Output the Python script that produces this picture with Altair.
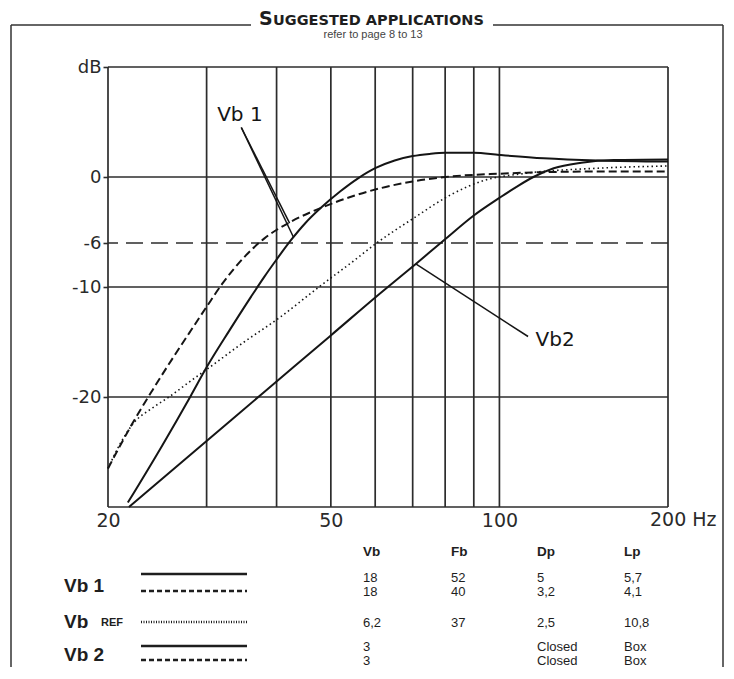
import altair as alt
import pandas as pd

# ---------------- data ----------------
VB1_SOLID_HZ = [21.7, 25, 28.1, 30, 33, 36, 38, 40, 42.5, 45, 48, 52, 56, 60, 65, 70, 75, 80, 90, 100, 120, 150, 200]
VB1_SOLID_DB = [-29.6, -24.4, -19.9, -17.3, -13.9, -10.9, -9.1, -7.5, -5.7, -4.2, -2.8, -1.3, -0.1, 0.8, 1.5, 1.9, 2.1, 2.2, 2.2, 2.0, 1.7, 1.5, 1.4]

VB1_DASH_HZ = [20, 22, 24, 26, 28, 30, 32, 35, 38, 42.3, 48.6, 55, 61.5, 70, 80, 100, 150, 200]
VB1_DASH_DB = [-26.5, -22.6, -19.4, -16.6, -14.1, -11.8, -9.7, -7.3, -5.6, -4.1, -2.7, -1.7, -1.0, -0.4, 0.0, 0.3, 0.5, 0.5]

VBREF_HZ = [20, 21, 22.2, 24, 25.7, 28, 30, 35, 40.7, 47.6, 55, 60, 70, 82, 94, 110, 150, 200]
VBREF_DB = [-26.5, -24.3, -22.4, -21.0, -20, -18.6, -17.5, -15.0, -12.7, -10, -7.6, -6.1, -3.8, -1.6, -0.3, 0.3, 0.8, 1.0]

VB2_HZ = [21.8, 30, 37.7, 50, 61.5, 70.9, 79.4, 90, 100, 108, 115, 125, 140, 160, 200]
VB2_DB = [-30, -24.0, -19.7, -14.4, -10.5, -7.9, -5.8, -3.5, -1.9, -0.8, 0, 0.8, 1.3, 1.55, 1.6]

GRID_HZ = [20, 30, 40, 50, 60, 70, 80, 90, 100, 200]
GRID_DB = [10, 0, -10, -20, -30]
REF_LEVEL_DB = [-6]
X_TICKS = [20, 50, 100]
X_LAST_LABEL = ["200 Hz"]
X_LAST_HZ = [200]
Y_TICKS = [10, 0, -6, -10, -20]

VB1_LABEL_HZ, VB1_LABEL_DB, VB1_LABEL = [34.4], [5.6], ["Vb 1"]
VB1_LEAD_HZ = [34.6, 34.6]
VB1_LEAD_DB = [4.5, 4.5]
VB1_LEAD_HZ2 = [42.2, 42.9]
VB1_LEAD_DB2 = [-4.2, -5.5]
VB2_LABEL_HZ, VB2_LABEL_DB, VB2_LABEL = [116], [-14.8], ["Vb2"]
VB2_LEAD_HZ, VB2_LEAD_DB, VB2_LEAD_HZ2, VB2_LEAD_DB2 = [70.9], [-7.9], [112.5], [-14.5]

TITLE_CAP = ["S"]
TITLE_REST = ["UGGESTED APPLICATIONS"]
SUBTITLE = ["refer to page 8 to 13"]

TABLE_HEADERS = ["Vb", "Fb", "Dp", "Lp"]
VB_VALUES = ["18", "18", "6,2", "3", "3"]
FB_VALUES = ["52", "40", "37", "", ""]
DP_VALUES = ["5", "3,2", "2,5", "Closed", "Closed"]
LP_VALUES = ["5,7", "4,1", "10,8", "Box", "Box"]
LEGEND_KEYS = ["Vb1 solid", "Vb1 dashed", "Vb REF", "Vb2 solid", "Vb2 dashed"]
LEGEND_LABELS = ["Vb 1", "Vb", "Vb 2"]
LEGEND_SUB = ["REF"]

# ---------------- layout / style ----------------
W, H = 560, 440
TW, TH = 560, 158
INK = "#151515"
GRID = "#2c2c2c"
FONT = "DejaVu Sans"
TFONT = "Liberation Sans"

COL_X = [255, 343, 429, 516]
HEADER_Y = 45
ROW_Y = [71, 85, 116, 140, 154]
LINE_Y = [67, 84, 115, 139, 153]
LABEL_Y = [79, 115, 148]
LABEL_X = -44
SUB_X = -7
SAMPLE_X = (33, 139)

xs = alt.Scale(type="log", domain=[20, 200], nice=False)
ys = alt.Scale(domain=[-30, 10], nice=False, zero=False)

x_axis = alt.Axis(values=X_TICKS, title=None, grid=False, ticks=False, tickSize=0,
                  domain=False, labelFont=FONT, labelFontSize=19, labelColor="#2a2a2a",
                  labelPadding=4, labelFlush=False, labelOverlap=False, format="d")
y_axis = alt.Axis(values=Y_TICKS, title=None, grid=False, domain=False, tickSize=5,
                  tickColor=GRID, tickWidth=1.6, labelFont=FONT, labelFontSize=18,
                  labelColor="#2a2a2a", labelPadding=2, labelOverlap=False,
                  labelExpr="datum.value == 10 ? 'dB' : toString(datum.value)")


def X(field="hz"):
    return alt.X(f"{field}:Q", scale=xs, axis=x_axis)


def Y(field="db"):
    return alt.Y(f"{field}:Q", scale=ys, axis=y_axis)


one = pd.DataFrame({"k": [0]})

vgrid = alt.Chart(pd.DataFrame({"hz": GRID_HZ})).mark_rule(
    color=GRID, strokeWidth=1.7).encode(x=X())
hgrid = alt.Chart(pd.DataFrame({"db": GRID_DB})).mark_rule(
    color=GRID, strokeWidth=1.7).encode(y=Y())
ref6 = alt.Chart(pd.DataFrame({"db": REF_LEVEL_DB})).mark_rule(
    color=GRID, strokeWidth=1.7, strokeDash=[17, 8]).encode(y=Y())


def curve(hz, db, width, dash=None):
    kw = dict(color=INK, strokeWidth=width, interpolate="monotone")
    if dash:
        kw["strokeDash"] = dash
    return alt.Chart(pd.DataFrame({"hz": hz, "db": db})).mark_line(**kw).encode(
        x=X(), y=Y())


c_ref = curve(VBREF_HZ, VBREF_DB, 1.6, [1.5, 3])
c_vb1d = curve(VB1_DASH_HZ, VB1_DASH_DB, 2.0, [8, 4])
c_vb1 = curve(VB1_SOLID_HZ, VB1_SOLID_DB, 2.0)
c_vb2 = curve(VB2_HZ, VB2_DB, 2.0)

lead1 = alt.Chart(pd.DataFrame({"hz": VB1_LEAD_HZ, "db": VB1_LEAD_DB,
                                "hz2": VB1_LEAD_HZ2, "db2": VB1_LEAD_DB2})).mark_rule(
    color=INK, strokeWidth=1.5).encode(x=X(), y=Y(), x2="hz2:Q", y2="db2:Q")
lead2 = alt.Chart(pd.DataFrame({"hz": VB2_LEAD_HZ, "db": VB2_LEAD_DB,
                                "hz2": VB2_LEAD_HZ2, "db2": VB2_LEAD_DB2})).mark_rule(
    color=INK, strokeWidth=1.5).encode(x=X(), y=Y(), x2="hz2:Q", y2="db2:Q")

lab1 = alt.Chart(pd.DataFrame({"hz": VB1_LABEL_HZ, "db": VB1_LABEL_DB, "t": VB1_LABEL})).mark_text(
    font=FONT, fontSize=20, color=INK, align="center", baseline="middle").encode(
    x=X(), y=Y(), text="t:N")
lab2 = alt.Chart(pd.DataFrame({"hz": VB2_LABEL_HZ, "db": VB2_LABEL_DB, "t": VB2_LABEL})).mark_text(
    font=FONT, fontSize=20, color=INK, align="left", baseline="middle").encode(
    x=X(), y=Y(), text="t:N")

last_lab = alt.Chart(pd.DataFrame({"hz": X_LAST_HZ, "t": X_LAST_LABEL})).mark_text(
    font=FONT, fontSize=19, color="#2a2a2a", align="left", baseline="top", dx=-18).encode(
    x=X(), y=alt.value(H + 4), text="t:N")


# decorations: outer frame, title
def hline(x1, x2, y, color="#333333", w=1.5):
    return alt.Chart(one).mark_rule(color=color, strokeWidth=w).encode(
        x=alt.value(x1), x2=alt.value(x2), y=alt.value(y))


def vline(x, y1, y2, color="#333333", w=1.5):
    return alt.Chart(one).mark_rule(color=color, strokeWidth=w).encode(
        x=alt.value(x), y=alt.value(y1), y2=alt.value(y2))


pin = hline(-99, 100, -58, color="#ffffff", w=0.5)
frame_l = vline(-97, -42, 600)
frame_r = vline(615, -42, 600)
frame_t1 = hline(-97, 143, -42)
frame_t2 = hline(385, 615, -42)

title_cap = alt.Chart(pd.DataFrame({"t": TITLE_CAP})).mark_text(
    font=FONT, fontWeight="bold", fontSize=19, color="#1e1e1e", align="left",
    baseline="alphabetic").encode(x=alt.value(151), y=alt.value(-42), text="t:N")
title_rest = alt.Chart(pd.DataFrame({"t": TITLE_REST})).mark_text(
    font=FONT, fontWeight="bold", fontSize=14.5, color="#1e1e1e", align="left",
    baseline="alphabetic").encode(x=alt.value(165), y=alt.value(-42), text="t:N")
subtitle = alt.Chart(pd.DataFrame({"t": SUBTITLE})).mark_text(
    font=TFONT, fontSize=11, color="#444444", align="center",
    baseline="alphabetic").encode(x=alt.value(265), y=alt.value(-29), text="t:N")

top = alt.layer(
    pin, frame_l, frame_r, frame_t1, frame_t2, title_cap, title_rest, subtitle,
    vgrid, hgrid, ref6, c_ref, c_vb1d, c_vb1, c_vb2, lead1, lead2, lab1, lab2, last_lab
).properties(width=W, height=H)

# ---------------- table below the chart ----------------
tx = alt.Scale(domain=[0, TW], range=[0, TW])
ty = alt.Scale(domain=[0, TH], range=[0, TH])

cells = []
for j, vals in enumerate([VB_VALUES, FB_VALUES, DP_VALUES, LP_VALUES]):
    for i, v in enumerate(vals):
        cells.append({"x": COL_X[j], "y": ROW_Y[i], "t": v})
cells = pd.DataFrame(cells)
heads = pd.DataFrame({"x": COL_X, "y": [HEADER_Y] * 4, "t": TABLE_HEADERS})

t_heads = alt.Chart(heads).mark_text(font=TFONT, fontWeight="bold", fontSize=13.5,
                                     color="#1e1e1e", align="left", baseline="middle").encode(
    x=alt.X("x:Q", scale=tx, axis=None), y=alt.Y("y:Q", scale=ty, axis=None), text="t:N")
t_cells = alt.Chart(cells).mark_text(font=TFONT, fontSize=13, color="#1e1e1e",
                                     align="left", baseline="middle").encode(
    x=alt.X("x:Q", scale=tx, axis=None), y=alt.Y("y:Q", scale=ty, axis=None), text="t:N")

labels = pd.DataFrame({"x": [LABEL_X] * 3, "y": LABEL_Y, "t": LEGEND_LABELS})
t_labels = alt.Chart(labels).mark_text(font=TFONT, fontWeight="bold", fontSize=19,
                                       color="#1e1e1e", align="left", baseline="middle").encode(
    x=alt.X("x:Q", scale=tx, axis=None), y=alt.Y("y:Q", scale=ty, axis=None), text="t:N")
subs = pd.DataFrame({"x": [SUB_X], "y": [LABEL_Y[1] + 1], "t": LEGEND_SUB})
t_subs = alt.Chart(subs).mark_text(font=TFONT, fontWeight="bold", fontSize=11,
                                   color="#1e1e1e", align="left", baseline="middle").encode(
    x=alt.X("x:Q", scale=tx, axis=None), y=alt.Y("y:Q", scale=ty, axis=None), text="t:N")

samples = pd.DataFrame({"key": LEGEND_KEYS, "y": LINE_Y,
                        "x": [SAMPLE_X[0]] * 5, "x2": [SAMPLE_X[1]] * 5})
dash_map = alt.Scale(domain=LEGEND_KEYS,
                     range=[[1, 0], [5, 3], [1, 1.5], [1, 0], [5, 3]])
width_map = alt.Scale(domain=LEGEND_KEYS, range=[2.6, 2.6, 1.2, 2.6, 2.6])
t_samples = alt.Chart(samples).mark_rule(color="#1e1e1e").encode(
    x=alt.X("x:Q", scale=tx, axis=None), x2="x2:Q",
    y=alt.Y("y:Q", scale=ty, axis=None),
    strokeDash=alt.StrokeDash("key:N", scale=dash_map, legend=None),
    strokeWidth=alt.StrokeWidth("key:N", scale=width_map, legend=None))

bottom = alt.layer(t_heads, t_cells, t_labels, t_subs, t_samples).properties(width=TW, height=TH)

chart = alt.vconcat(top, bottom, spacing=0, bounds="flush").properties(
    padding=0).configure_view(stroke=None)

chart.save("out.html", embed_options={"renderer": "svg", "actions": False})
